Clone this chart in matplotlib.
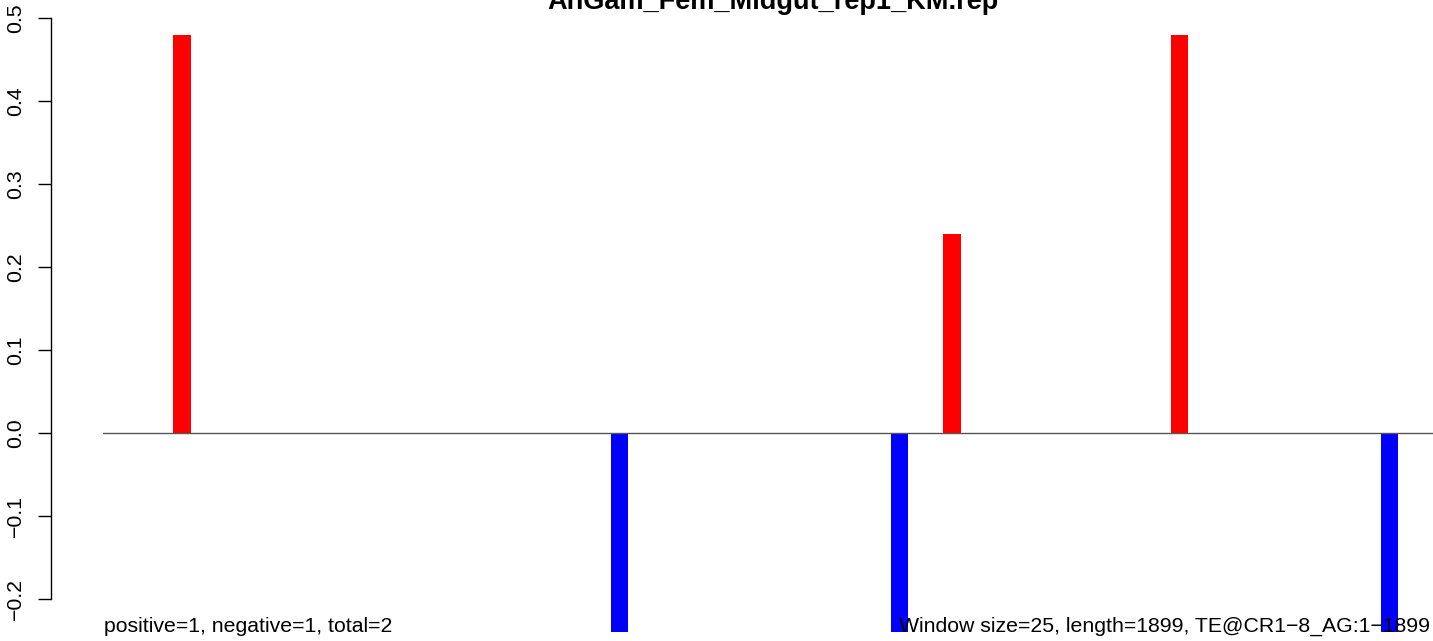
import numpy as np
import matplotlib
matplotlib.use("Agg")
import matplotlib.pyplot as plt

# window index (1-based, window size 25) and score per window
window_index = [5, 30, 46, 49, 62, 74]
window_score = [0.48, -0.24, -0.24, 0.24, 0.48, -0.24]
n_windows = 76

title = "AnGam_Fem_Midgut_rep1_KM.rep"
left_note = "positive=1, negative=1, total=2"
right_note = "Window size=25, length=1899, TE@CR1\u22128_AG:1\u22121899"
y_ticks = [-0.2, -0.1, 0.0, 0.1, 0.2, 0.3, 0.4, 0.5]

plt.rcParams["font.family"] = ["Liberation Sans", "DejaVu Sans"]

W, H = 1433, 641
PX = 72 / 100  # points per pixel at dpi 100
fig = plt.figure(figsize=(W / 100, H / 100), dpi=100)
ax = fig.add_axes([103 / W, 8 / H, 1330 / W, 633 / H])

x = np.array(window_index) - 0.5
scores = np.array(window_score)
colors = ["#ff0000" if s > 0 else "#0000ff" for s in scores]
ax.bar(x, scores, width=1.0, color=colors, linewidth=0, zorder=2)
ax.axhline(0, color="#555555", lw=1.0, zorder=3)

ax.set_xlim(0, n_windows)
ax.set_ylim(-0.241, 0.5217)

for s in ["top", "right", "bottom"]:
    ax.spines[s].set_visible(False)
ax.spines["left"].set_position(("outward", 52 * PX))
ax.spines["left"].set_bounds(-0.2, 0.5)
ax.spines["left"].set_linewidth(1.0)
ax.set_xticks([])
ax.set_yticks(y_ticks)
ax.set_yticklabels([f"{t:.1f}".replace("-", "\u2212") for t in y_ticks],
                   rotation=90, va="center", fontsize=15.3)
ax.tick_params(axis="y", length=13 * PX, width=1.0, pad=13 * PX)

fig.text(773 / W, 1 - 9 / H, title, ha="center", va="baseline",
         fontsize=19.5, fontweight="bold")
fig.text(104 / W, 1 - 632 / H, left_note, ha="left", va="baseline", fontsize=15.3)
fig.text(1430 / W, 1 - 632 / H, right_note, ha="right", va="baseline",
         fontsize=15.3, zorder=5)

fig.savefig("out.png", dpi=100)
